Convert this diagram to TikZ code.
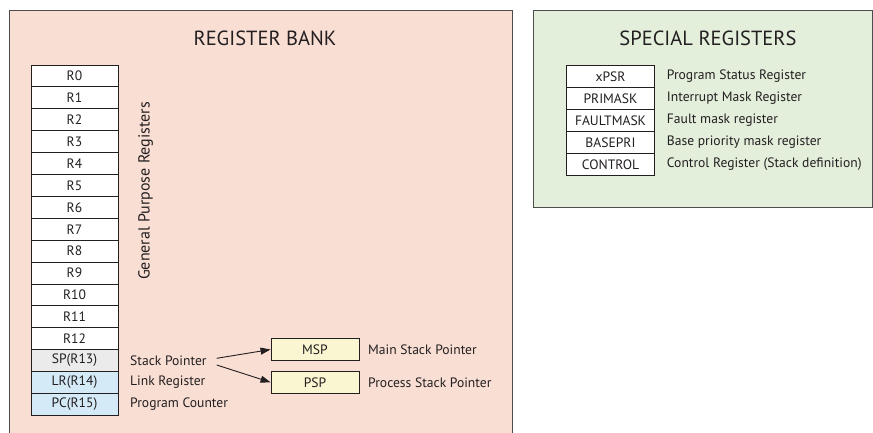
\documentclass[tikz,border=0pt]{standalone}
\usepackage{fontspec}
\setmainfont{PT Sans}
\usetikzlibrary{arrows.meta}
\definecolor{ink}{HTML}{231F20}
\definecolor{bankfill}{HTML}{F9DED4}
\definecolor{specfill}{HTML}{E3EFDB}
\definecolor{spfill}{HTML}{EBEBEB}
\definecolor{lrfill}{HTML}{D5EAF7}
\definecolor{stackfill}{HTML}{FAF6D1}
\definecolor{frame}{HTML}{4D4D4D}
\begin{document}
\begin{tikzpicture}[x=1pt,y=-1pt,
  every node/.style={text=ink},
  reg/.style={draw=ink, line width=0.9pt, fill=white, minimum width=87pt,
    minimum height=21.9pt, inner sep=0pt, font=\fontsize{13.6}{15}\selectfont},
  spec/.style={reg, minimum width=87.6pt, minimum height=22pt},
  desc/.style={anchor=west, inner sep=0pt, font=\fontsize{13.6}{15}\selectfont},
  title/.style={font=\fontsize{20.5}{24}\selectfont},
  link/.style={draw=ink, line width=0.9pt, -{Triangle[length=10pt,width=7pt]}}]
\useasboundingbox (0,0) rectangle (873,433);
\clip (0,0) rectangle (873,433);

% register bank panel (runs past the lower edge)
\fill[bankfill] (9,10) rectangle (512,440);
\draw[frame, line width=0.9pt] (9,440) -- (9,10) -- (512,10) -- (512,440);
\node[title] (banktitle) at (265,38) {REGISTER BANK};

% general purpose registers R0..R12, then SP, LR, PC
\foreach \i in {0,...,12} {
  \node[reg] (r\i) at (74.5,{65+21.9*(\i+0.5)}) {R\i};
}
\node[reg, fill=spfill] (sp) at (74.5,{65+21.9*13.5}) {SP(R13)};
\node[reg, fill=lrfill] (lr) at (74.5,{65+21.9*14.5}) {LR(R14)};
\node[reg, fill=lrfill] (pc) at (74.5,{65+21.9*15.5}) {PC(R15)};

\node[rotate=90, font=\fontsize{16}{18}\selectfont] (gpr) at (145.5,191) {General Purpose Registers};

\node[desc] (sptext) at (130,{65+21.9*13.5}) {Stack Pointer};
\node[desc] (lrtext) at (130,{65+21.9*14.5}) {Link Register};
\node[desc] (pctext) at (130,{65+21.9*15.5}) {Program Counter};

% banked stack pointers
\node[reg, fill=stackfill, minimum width=88pt, minimum height=21.6pt] (msp) at (315,349.5) {MSP};
\node[reg, fill=stackfill, minimum width=88pt, minimum height=22pt] (psp) at (315,382.3) {PSP};
\node[desc] (msptext) at (368,350) {Main Stack Pointer};
\node[desc] (psptext) at (368,382.5) {Process Stack Pointer};

\coordinate (spa) at (216.7,358.3);
\coordinate (spb) at (216.7,365);
\draw[link] (spa) -- (msp.west);
\draw[link] (spb) -- (psp.west);

% special registers panel
\fill[specfill] (533,10) rectangle (872.4,207.3);
\draw[frame, line width=0.9pt] (533,10) rectangle (872.4,207.3);
\node[title] (spectitle) at (708,38) {SPECIAL REGISTERS};

\foreach \n/\d [count=\k from 0] in {xPSR/Program Status Register,
    PRIMASK/Interrupt Mask Register,
    FAULTMASK/Fault mask register,
    BASEPRI/Base priority mask register,
    CONTROL/Control Register (Stack definition)} {
  \node[spec] (s\k) at (610.5,{65.3+22*(\k+0.5)}) {\n};
  \node[desc] (d\k) at (666.7,{65.3+22*(\k+0.5)}) {\d};
}
\end{tikzpicture}
\end{document}
